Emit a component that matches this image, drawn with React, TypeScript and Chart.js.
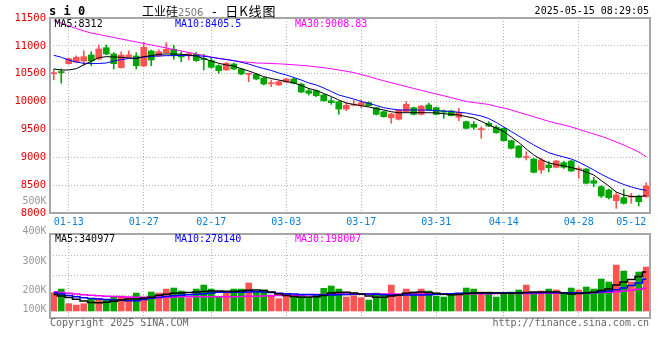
import React, { useEffect, useRef } from 'react';
import { Chart, registerables } from 'chart.js';

Chart.register(...registerables);

// ---------- DATA ----------
const dates = [
  '01-09', '01-10', '01-13', '01-14', '01-15', '01-16', '01-17', '01-20', '01-21', '01-22', '01-23', '01-24', '01-27',
  '02-05', '02-06', '02-07', '02-10', '02-11', '02-12', '02-13', '02-14', '02-17', '02-18', '02-19', '02-20', '02-21',
  '02-24', '02-25', '02-26', '02-27', '02-28',
  '03-03', '03-04', '03-05', '03-06', '03-07', '03-10', '03-11', '03-12', '03-13', '03-14', '03-17', '03-18', '03-19',
  '03-20', '03-21', '03-24', '03-25', '03-26', '03-27', '03-28', '03-31',
  '04-01', '04-02', '04-03', '04-07', '04-08', '04-09', '04-10', '04-11', '04-14', '04-15', '04-16', '04-17', '04-18',
  '04-21', '04-22', '04-23', '04-24', '04-25', '04-28', '04-29', '04-30',
  '05-06', '05-07', '05-08', '05-09', '05-12', '05-13', '05-14',
];

const opens = [
  10500, 10530, 10680, 10710, 10729, 10836, 10764, 10967, 10854, 10608, 10800, 10818, 10638,
  10908, 10818, 10877, 10938, 10836, 10840, 10849, 10770, 10734, 10644, 10567, 10674, 10585,
  10490, 10490, 10423, 10320, 10298,
  10351, 10405, 10315, 10195, 10195, 10118, 10016, 9998, 9867, 9935, 9926, 9980, 9890,
  9818, 9711, 9682, 9818, 9890, 9771, 9939, 9890,
  9830, 9831, 9718, 9639, 9593, 9495, 9610, 9539, 9520, 9298, 9203, 8995, 8969,
  8772, 8862, 8820, 8903, 8933, 8780, 8790, 8580,
  8472, 8413, 8221, 8275, 8285, 8305, 8293,
];
const highs = [
  10580, 10585, 10780, 10820, 10913, 10895, 11016, 11016, 10877, 10895, 10913, 10877, 11064,
  10926, 10930, 11057, 11010, 10895, 10884, 10880, 10849, 10777, 10660, 10705, 10690, 10600,
  10510, 10500, 10436, 10387, 10370,
  10420, 10420, 10330, 10238, 10210, 10130, 10070, 10010, 9980, 10028, 10028, 9995, 9900,
  9830, 9790, 9860, 9998, 9900, 9930, 9969, 9900,
  9849, 9845, 9879, 9650, 9640, 9549, 9640, 9570, 9530, 9310, 9210, 9100, 8980,
  8982, 8921, 8945, 8930, 8945, 8831, 8800, 8641,
  8490, 8430, 8364, 8425, 8354, 8323, 8544,
];
const lows = [
  10390, 10330, 10670, 10700, 10657, 10644, 10746, 10840, 10585, 10600, 10790, 10585, 10630,
  10644, 10810, 10870, 10759, 10716, 10746, 10720, 10567, 10600, 10508, 10560, 10570, 10480,
  10357, 10390, 10298, 10267, 10290,
  10340, 10320, 10160, 10118, 10090, 10000, 9951, 9771, 9836, 9920, 9890, 9915, 9760,
  9720, 9610, 9670, 9810, 9760, 9760, 9840, 9760,
  9700, 9740, 9657, 9510, 9500, 9341, 9550, 9430, 9290, 9150, 8990, 8951, 8720,
  8712, 8741, 8810, 8800, 8745, 8623, 8520, 8472,
  8280, 8250, 8084, 8160, 8174, 8126, 8280,
];
const closes = [
  10510, 10520, 10770, 10795, 10806, 10729, 10944, 10854, 10680, 10836, 10836, 10644, 10975,
  10746, 10895, 10938, 10831, 10800, 10855, 10734, 10755, 10615, 10554, 10687, 10585, 10495,
  10500, 10405, 10315, 10330, 10357,
  10405, 10328, 10172, 10149, 10105, 10016, 9980, 9867, 9933, 9945, 9980, 9926, 9771,
  9729, 9777, 9849, 9951, 9771, 9920, 9849, 9771,
  9810, 9747, 9808, 9520, 9539, 9505, 9562, 9441, 9298, 9161, 9000, 9005, 8730,
  8951, 8813, 8933, 8820, 8754, 8790, 8533, 8533,
  8305, 8275, 8323, 8174, 8300, 8203, 8485,
];

const ma5 = [
  10585, 10567, 10567, 10590, 10657, 10723, 10788, 10806, 10800, 10795, 10782, 10770, 10806,
  10824, 10849, 10854, 10854, 10849, 10836, 10818, 10770, 10729, 10687, 10657, 10639, 10590,
  10549, 10500, 10447, 10414, 10387,
  10360, 10334, 10289, 10235, 10199, 10145, 10091, 10028, 9975, 9948, 9926, 9903, 9873,
  9849, 9818, 9800, 9800, 9800, 9800, 9800, 9795,
  9782, 9771, 9760, 9730, 9705, 9646, 9580, 9526, 9463, 9364, 9266, 9149, 9041,
  8960, 8898, 8870, 8844, 8817, 8781, 8736, 8682,
  8583, 8485, 8377, 8323, 8296, 8293, 8312,
];
const ma10 = [
  10831, 10795, 10746, 10710, 10687, 10684, 10684, 10692, 10729, 10755, 10773, 10782, 10800,
  10809, 10818, 10824, 10824, 10827, 10824, 10824, 10813, 10795, 10773, 10755, 10734, 10705,
  10674, 10630, 10593, 10558, 10513,
  10477, 10432, 10387, 10334, 10298, 10244, 10181, 10118, 10082, 10046, 10001, 9969, 9930,
  9890, 9867, 9849, 9849, 9849, 9849, 9845, 9836,
  9831, 9822, 9808, 9795, 9768, 9741, 9696, 9625, 9544, 9463, 9382, 9301, 9221,
  9149, 9082, 9041, 9005, 8969, 8915, 8844, 8772,
  8695, 8628, 8566, 8512, 8467, 8431, 8405.5,
];
const ma30 = [
  11455, 11410, 11357, 11312, 11267, 11231, 11204, 11177, 11150, 11123, 11096, 11070, 11043,
  11016, 10989, 10962, 10935, 10908, 10881, 10854, 10827, 10800, 10777, 10755, 10734, 10716,
  10705, 10692, 10689, 10683, 10678,
  10669, 10660, 10650, 10639, 10624, 10608, 10588, 10567, 10544, 10520, 10485, 10450, 10411,
  10373, 10339, 10305, 10270, 10235, 10202, 10168, 10136,
  10104, 10070, 10036, 10001, 9983, 9966, 9948, 9912, 9885, 9849, 9808, 9768, 9727,
  9687, 9646, 9610, 9580, 9544, 9502, 9459, 9418,
  9377, 9328, 9274, 9221, 9158, 9095, 9008.83,
];

const volumes = [
  160000, 192000, 64000, 52000, 64000, 111000, 111000, 102000, 125000, 131000, 120000, 157000, 120000,
  166000, 157000, 192000, 201000, 175000, 114000, 192000, 227000, 192000, 125000, 163000, 192000, 192000,
  245000, 169000, 184000, 140000, 108000,
  146000, 120000, 140000, 120000, 146000, 198000, 219000, 192000, 122000, 134000, 117000, 96000, 157000,
  149000, 227000, 140000, 192000, 166000, 192000, 175000, 131000,
  122000, 149000, 149000, 201000, 192000, 166000, 166000, 122000, 149000, 166000, 184000, 227000, 149000,
  175000, 192000, 184000, 149000, 201000, 184000, 210000, 192000,
  280000, 254000, 402000, 350000, 254000, 341000, 385000,
];
const volMa5 = [
  144000, 131000, 118000, 102000, 88000, 74000, 73000, 77000, 85000, 96000, 105000, 105000, 114000,
  120000, 137000, 146000, 155000, 158000, 162000, 166000, 171000, 175000, 175000, 172000, 171000, 175000,
  181000, 184000, 179000, 166000, 149000,
  136000, 127000, 120000, 122000, 125000, 136000, 158000, 162000, 164000, 158000, 149000, 131000, 120000,
  120000, 131000, 140000, 155000, 162000, 166000, 162000, 155000,
  146000, 143000, 144000, 153000, 158000, 159000, 160000, 158000, 155000, 155000, 158000, 162000, 166000,
  166000, 166000, 166000, 158000, 149000, 153000, 160000, 164000,
  179000, 193000, 228000, 254000, 276000, 302000, 340977,
];
const volMa10 = [
  160000, 149000, 136000, 125000, 116000, 109000, 105000, 101000, 96000, 94000, 90000, 89000, 101000,
  111000, 118000, 127000, 133000, 138000, 142000, 147000, 152000, 158000, 163000, 164000, 164000, 165000,
  166000, 168000, 166000, 162000, 156000,
  152000, 149000, 145000, 144000, 142000, 140000, 140000, 142000, 144000, 147000, 149000, 149000, 146000,
  143000, 140000, 140000, 140000, 140000, 140000, 143000, 146000,
  149000, 151000, 155000, 155000, 155000, 155000, 156000, 158000, 159000, 160000, 160000, 160000, 160000,
  160000, 160000, 160000, 160000, 160000, 160000, 160000, 162000,
  166000, 175000, 186000, 201000, 223000, 245000, 278140,
];
const volMa30 = [
  169000, 162000, 155000, 149000, 142000, 137000, 133000, 129000, 127000, 124000, 122000, 121000, 120000,
  121000, 122000, 122000, 123000, 124000, 125000, 125000, 125000, 125000, 125000, 125000, 125000, 126000,
  128000, 129000, 131000, 133000, 135000,
  137000, 138000, 140000, 142000, 144000, 145000, 147000, 149000, 149000, 149000, 149000, 149000, 149000,
  149000, 149000, 149000, 149000, 149000, 149000, 149000, 150000,
  150000, 150000, 150000, 150000, 150000, 150000, 150000, 153000, 153000, 153000, 153000, 153000, 153000,
  156000, 156000, 156000, 156000, 156000, 156000, 158000, 159000,
  162000, 165000, 169000, 175000, 182000, 190000, 198007,
];

const xTickDates = ['01-13', '01-27', '02-17', '03-03', '03-17', '03-31', '04-14', '04-28', '05-12'];
const priceTicks = [8000, 8500, 9000, 9500, 10000, 10500, 11000, 11500];
const volGridValues = [140000, 315000, 490000];
const volAxisMin = -61250;
const volAxisMax = 673750;
const volTickLabels = ['500K', '400K', '300K', '200K', '100K'];

const titleCode = 's i 0';
const titleName = '工业硅';
const titleContract = '2506';
const titleDash = ' - ';
const titleSuffix = '日K线图';
const timestamp = '2025-05-15 08:29:05';
const copyright = 'Copyright 2025 SINA.COM';
const siteUrl = 'http://finance.sina.com.cn';

// ---------- STYLE ----------
const RED = '#ff5252';
const GREEN = '#00a600';
const MONO = '"DejaVu Sans Mono", monospace';
const GRID = '#b4b4b4';
const FRAME = '#a6a6a6';

const framePlugin = {
  id: 'frame',
  afterDraw(chart: any) {
    const { ctx, chartArea } = chart;
    const { left, top, right, bottom } = chartArea;
    ctx.save();
    ctx.strokeStyle = FRAME;
    ctx.lineWidth = 2;
    ctx.strokeRect(left, top, right - left, bottom - top);
    ctx.restore();
  },
};

function xScale(showLabels: boolean, height: number) {
  return {
    type: 'category',
    offset: true,
    grid: {
      offset: false,
      drawTicks: false,
      color: (c: any) => (c.index === xTickDates.length - 1 ? 'rgba(0,0,0,0)' : GRID),
      lineWidth: 1,
    },
    border: { display: false, dash: [1, 2] },
    ticks: {
      display: showLabels,
      autoSkip: false,
      maxRotation: 0,
      minRotation: 0,
      color: '#0a80d8',
      font: { family: MONO, size: 10 },
      padding: 3,
    },
    afterBuildTicks: (s: any) => {
      s.ticks = s.ticks.filter((t: any) => xTickDates.includes(dates[t.value]));
    },
    afterFit: (s: any) => {
      s.height = height;
    },
  };
}

function Label(props: {
  text: string;
  x: number;
  cy: number;
  color?: string;
  size?: number;
  align?: 'left' | 'right';
  weight?: string;
  family?: string;
}) {
  const { text, x, cy, color = '#000', size = 10, align = 'left', weight = 'normal', family = MONO } = props;
  const style: any = {
    position: 'absolute',
    top: cy - 6,
    height: 12,
    lineHeight: '12px',
    fontSize: size,
    fontFamily: family,
    fontWeight: weight,
    color,
    whiteSpace: 'pre',
  };
  if (align === 'left') style.left = x;
  else {
    style.right = 660 - x;
    style.textAlign = 'right';
  }
  return <div style={style}>{text}</div>;
}

export default function App() {
  const priceRef = useRef<HTMLCanvasElement>(null);
  const volRef = useRef<HTMLCanvasElement>(null);

  useEffect(() => {
    const candleColors = opens.map((o, i) => (closes[i] >= o ? RED : GREEN));

    const price = new Chart(priceRef.current as HTMLCanvasElement, {
      type: 'bar',
      data: {
        labels: dates,
        datasets: [
          { type: 'line', label: 'MA5', data: ma5, borderColor: '#000000', borderWidth: 1, pointRadius: 0, order: 0 },
          { type: 'line', label: 'MA10', data: ma10, borderColor: '#0000ff', borderWidth: 1, pointRadius: 0, order: 0 },
          { type: 'line', label: 'MA30', data: ma30, borderColor: '#ff00ff', borderWidth: 1, pointRadius: 0, order: 0 },
          {
            type: 'bar', label: 'body', data: opens.map((o, i) => [o, closes[i]]),
            backgroundColor: candleColors, barThickness: 6, minBarLength: 1, grouped: false, order: 1,
          },
          {
            type: 'bar', label: 'wick', data: lows.map((l, i) => [l, highs[i]]),
            backgroundColor: candleColors, barThickness: 1, grouped: false, order: 2,
          },
        ] as any,
      },
      options: {
        responsive: false,
        animation: false,
        layout: { padding: { top: 18, right: 10, left: 0, bottom: 0 }, autoPadding: false } as any,
        plugins: { legend: { display: false }, tooltip: { enabled: false } },
        scales: {
          x: xScale(true, 21) as any,
          y: {
            min: 8000,
            max: 11500,
            grid: { color: GRID, drawTicks: false },
            border: { display: false, dash: [1, 2] },
            ticks: {
              color: '#e60000',
              font: { family: MONO, size: 10.5 },
              padding: 4,
              callback: (v: any) => String(v),
            },
            afterBuildTicks: (s: any) => {
              s.ticks = priceTicks.map((v) => ({ value: v }));
            },
            afterFit: (s: any) => {
              s.width = 50;
            },
          } as any,
        },
      },
      plugins: [framePlugin],
    });

    const vol = new Chart(volRef.current as HTMLCanvasElement, {
      type: 'bar',
      data: {
        labels: dates,
        datasets: [
          { type: 'line', label: 'MA5', data: volMa5, borderColor: '#000000', borderWidth: 1.5, pointRadius: 0, stepped: 'middle', order: 0 },
          { type: 'line', label: 'MA10', data: volMa10, borderColor: '#0000ff', borderWidth: 1.5, pointRadius: 0, stepped: 'middle', order: 0 },
          { type: 'line', label: 'MA30', data: volMa30, borderColor: '#ff00ff', borderWidth: 1.5, pointRadius: 0, stepped: 'middle', order: 0 },
          { type: 'bar', label: 'VOL', data: volumes, backgroundColor: candleColors, barThickness: 6, grouped: false, order: 1 },
        ] as any,
      },
      options: {
        responsive: false,
        animation: false,
        layout: { padding: { top: 6, right: 10, left: 0, bottom: 0 }, autoPadding: false } as any,
        plugins: { legend: { display: false }, tooltip: { enabled: false } },
        scales: {
          x: xScale(false, 42) as any,
          y: {
            min: volAxisMin,
            max: volAxisMax,
            grid: { color: GRID, drawTicks: false },
            border: { display: false, dash: [1, 2] },
            ticks: { display: false },
            afterBuildTicks: (s: any) => {
              s.ticks = volGridValues.map((v) => ({ value: v }));
            },
            afterFit: (s: any) => {
              s.width = 50;
            },
          } as any,
        },
      },
      plugins: [framePlugin],
    });

    return () => {
      price.destroy();
      vol.destroy();
    };
  }, []);

  const last = (a: number[]) => a[a.length - 1];
  const volLabelY = [200.7, 231, 260.7, 290, 309];

  return (
    <div style={{ position: 'absolute', left: 0, top: 0, width: 660, height: 360, background: '#fff', overflow: 'hidden' }}>
      <canvas ref={priceRef} width={660} height={234} style={{ position: 'absolute', left: 0, top: 0, width: 660, height: 234 }} />
      <canvas ref={volRef} width={660} height={132} style={{ position: 'absolute', left: 0, top: 228, width: 660, height: 132 }} />

      <Label text={titleCode} x={49} cy={11} size={12} weight="bold" />
      <div style={{ position: 'absolute', left: 142, top: 3, height: 16, lineHeight: '16px', whiteSpace: 'pre', color: '#000' }}>
        <span style={{ fontFamily: '"Noto Sans CJK SC"', fontSize: 12 }}>{titleName}</span>
        <span style={{ fontFamily: '"DejaVu Sans", sans-serif', fontSize: 10, color: '#777' }}>{titleContract}</span>
        <span style={{ fontFamily: MONO, fontSize: 12 }}>{titleDash}</span>
        <span style={{ fontFamily: '"Noto Sans CJK SC"', fontSize: 13, letterSpacing: 1 }}>{titleSuffix}</span>
      </div>
      <Label text={timestamp} x={649} cy={11.3} align="right" />

      <Label text={`MA5:${last(ma5)}`} x={54.5} cy={23.5} color="#000000" />
      <Label text={`MA10:${last(ma10)}`} x={175} cy={23.5} color="#0000ff" />
      <Label text={`MA30:${last(ma30)}`} x={295} cy={23.5} color="#ff00ff" />

      <Label text={`MA5:${last(volMa5)}`} x={55} cy={238.5} color="#000000" />
      <Label text={`MA10:${last(volMa10)}`} x={175} cy={238.5} color="#0000ff" />
      <Label text={`MA30:${last(volMa30)}`} x={295} cy={238.5} color="#ff00ff" />

      {volTickLabels.map((t, i) => (
        <Label key={t} text={t} x={46.5} cy={volLabelY[i]} align="right" color="#999999" />
      ))}

      <Label text={copyright} x={50} cy={323} color="#666666" />
      <Label text={siteUrl} x={649} cy={323} align="right" color="#666666" />
    </div>
  );
}
